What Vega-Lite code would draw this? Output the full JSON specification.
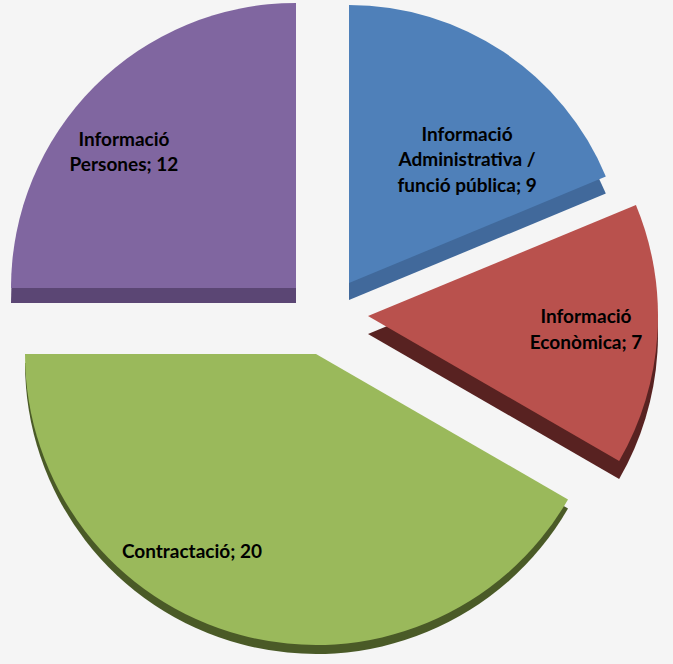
{
  "$schema": "https://vega.github.io/schema/vega-lite/v6.json",
  "width": 673,
  "height": 664,
  "padding": 0,
  "autosize": "none",
  "background": "#f5f5f5",
  "config": {"view": {"stroke": null}},
  "data": {
    "values": [
      {"order": 1, "category": "Informació Administrativa / funció pública", "value": 9, "label": ["Informació", "Administrativa /", "funció pública; 9"]},
      {"order": 2, "category": "Informació Econòmica", "value": 7, "label": ["Informació", "Econòmica; 7"]},
      {"order": 3, "category": "Contractació", "value": 20, "label": ["Contractació; 20"]},
      {"order": 4, "category": "Informació Persones", "value": 12, "label": ["Informació", "Persones; 12"]}
    ]
  },
  "transform": [
    {"stack": "value", "groupby": [], "sort": [{"field": "order", "order": "ascending"}], "as": ["start", "end"]}
  ],
  "layer": [
    {
      "transform": [{"filter": "datum.order == 1"}],
      "mark": {"type": "arc", "radius": 278, "xOffset": 12.5, "yOffset": -32, "color": "#41699B"},
      "encoding": {"theta": {"field": "start", "type": "quantitative", "scale": {"domain": [0, 48]}}, "theta2": {"field": "end"}}
    },
    {
      "transform": [{"filter": "datum.order == 2"}],
      "mark": {"type": "arc", "radius": 290, "xOffset": 31.5, "yOffset": 2, "color": "#582221"},
      "encoding": {"theta": {"field": "start", "type": "quantitative"}, "theta2": {"field": "end"}}
    },
    {
      "transform": [{"filter": "datum.order == 3"}],
      "mark": {"type": "arc", "radius": 291, "xOffset": -20.5, "yOffset": 31, "color": "#4A5A27"},
      "encoding": {"theta": {"field": "start", "type": "quantitative"}, "theta2": {"field": "end"}}
    },
    {
      "transform": [{"filter": "datum.order == 4"}],
      "mark": {"type": "arc", "radius": 285, "xOffset": -40.5, "yOffset": -29, "color": "#5B4674"},
      "encoding": {"theta": {"field": "start", "type": "quantitative"}, "theta2": {"field": "end"}}
    },
    {
      "transform": [{"filter": "datum.order == 1"}],
      "mark": {"type": "arc", "radius": 278, "xOffset": 12.5, "yOffset": -49, "color": "#4F80B9"},
      "encoding": {"theta": {"field": "start", "type": "quantitative"}, "theta2": {"field": "end"}}
    },
    {
      "transform": [{"filter": "datum.order == 2"}],
      "mark": {"type": "arc", "radius": 290, "xOffset": 31.5, "yOffset": -16, "color": "#B9514D"},
      "encoding": {"theta": {"field": "start", "type": "quantitative"}, "theta2": {"field": "end"}}
    },
    {
      "transform": [{"filter": "datum.order == 3"}],
      "mark": {"type": "arc", "radius": 291, "xOffset": -20.5, "yOffset": 22, "color": "#9AB95B"},
      "encoding": {"theta": {"field": "start", "type": "quantitative"}, "theta2": {"field": "end"}}
    },
    {
      "transform": [{"filter": "datum.order == 4"}],
      "mark": {"type": "arc", "radius": 285, "xOffset": -40.5, "yOffset": -44, "color": "#8066A0"},
      "encoding": {"theta": {"field": "start", "type": "quantitative"}, "theta2": {"field": "end"}}
    },
    {
      "transform": [{"filter": "datum.order == 1"}],
      "mark": {"type": "text", "radius": 170, "thetaOffset": 0.768, "dx": 12.5, "dy": -75, "font": "Lato", "fontSize": 19, "fontWeight": "bold", "color": "#000000", "lineHeight": 25.5, "align": "center", "baseline": "middle"},
      "encoding": {"theta": {"field": "start", "type": "quantitative"}, "text": {"field": "label"}}
    },
    {
      "transform": [{"filter": "datum.order == 2"}],
      "mark": {"type": "text", "radius": 218.5, "thetaOffset": 0.459, "dx": 31.5, "dy": -29, "font": "Lato", "fontSize": 19, "fontWeight": "bold", "color": "#000000", "lineHeight": 25.7, "align": "center", "baseline": "middle"},
      "encoding": {"theta": {"field": "start", "type": "quantitative"}, "text": {"field": "label"}}
    },
    {
      "transform": [{"filter": "datum.order == 3"}],
      "mark": {"type": "text", "radius": 234, "thetaOffset": 1.606, "dx": -20.5, "dy": 22, "font": "Lato", "fontSize": 19, "fontWeight": "bold", "color": "#000000", "lineHeight": 26, "align": "center", "baseline": "middle"},
      "encoding": {"theta": {"field": "start", "type": "quantitative"}, "text": {"field": "label"}}
    },
    {
      "transform": [{"filter": "datum.order == 4"}],
      "mark": {"type": "text", "radius": 219, "thetaOffset": 0.667, "dx": -40.5, "dy": -57, "font": "Lato", "fontSize": 19, "fontWeight": "bold", "color": "#000000", "lineHeight": 25.7, "align": "center", "baseline": "middle"},
      "encoding": {"theta": {"field": "start", "type": "quantitative"}, "text": {"field": "label"}}
    }
  ]
}
